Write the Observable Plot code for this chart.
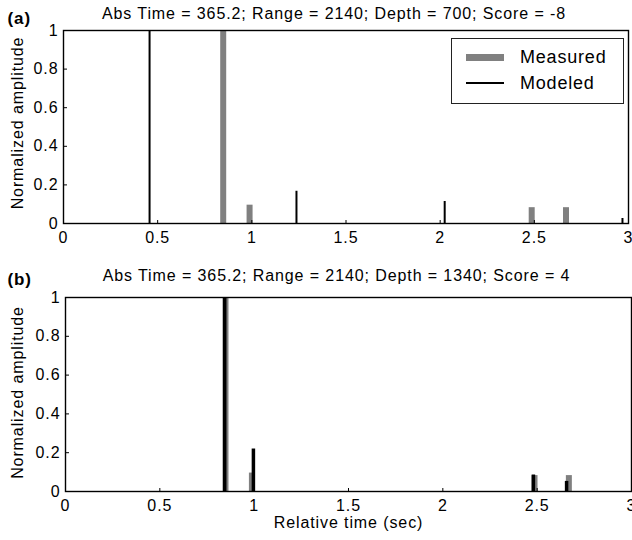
<!DOCTYPE html>
<html>
<head>
<meta charset="utf-8">
<script src="https://cdn.jsdelivr.net/npm/d3@7"></script>
<script src="https://cdn.jsdelivr.net/npm/@observablehq/plot@0.6"></script>
<style>
  html, body { margin: 0; padding: 0; background: #fff; }
  #wrap { position: relative; width: 632px; height: 540px; overflow: hidden; font-family: "Liberation Sans", Arial, sans-serif; }
  #wrap svg { display: block; }
  .legend { position: absolute; left: 451px; top: 38px; width: 171px; height: 64px; border: 1px solid #222; background: #fff; }
  .legend .row { position: absolute; left: 0; height: 20px; width: 100%; }
  .legend .sw { position: absolute; left: 14px; width: 38px; }
  .legend .lbl { position: absolute; left: 68px; top: 0; font-size: 18px; letter-spacing: 0.8px; line-height: 20px; color: #000; }
</style>
</head>
<body>
<div id="wrap"></div>
<script>
// ---- data ----
const xTicks = [0, 0.5, 1, 1.5, 2, 2.5, 3];
const yTicks = [0, 0.2, 0.4, 0.6, 0.8, 1];

const measuredTime = [0.848, 0.988, 2.486, 2.668];
const measuredAmp  = [1.0, 0.095, 0.082, 0.082];

const modeledTimeA = [0.457, 1.237, 2.024, 2.968];
const modeledAmpA  = [1.0, 0.167, 0.114, 0.026];

const modeledTimeB = [0.844, 0.996, 2.480, 2.656];
const modeledAmpB  = [1.0, 0.219, 0.085, 0.052];

const titles = [
  "Abs Time = 365.2; Range = 2140; Depth = 700; Score = -8",
  "Abs Time = 365.2; Range = 2140; Depth = 1340; Score = 4"
];
const panelLabels = ["(a)", "(b)"];
const yLabel = "Normalized amplitude";
const xLabel = "Relative time (sec)";
const legendLabels = ["Measured", "Modeled"];

// ---- build ----
const measured = measuredTime.map((t, i) => ({t, a: measuredAmp[i]}));
const modeledA = modeledTimeA.map((t, i) => ({t, a: modeledAmpA[i]}));
const modeledB = modeledTimeB.map((t, i) => ({t, a: modeledAmpB[i]}));

const FONT = '"Liberation Sans", Arial, sans-serif';

function panel({height, mt, mb, ml, mr, modeled, modeledWidth, title, titleDy, label, labelDx, labelDy, ylabDx, ylabDy, withX}) {
  const W = 632;
  const plotW = W - ml - mr;
  const plotH = height - mt - mb;
  const marks = [
    Plot.ruleX(measured, {x: "t", y1: 0, y2: "a", stroke: "#808080", strokeWidth: 6}),
    Plot.ruleX(modeled, {x: "t", y1: 0, y2: "a", stroke: "#000", strokeWidth: modeledWidth}),
    Plot.frame({stroke: "#000", strokeWidth: 1.4}),
    Plot.tickY(yTicks, {y: d => d, stroke: "#000", insetRight: plotW - 4}),
    Plot.tickX(xTicks, {x: d => d, stroke: "#000", insetTop: plotH - 3}),
    Plot.axisY({ticks: yTicks, tickFormat: d => String(d), tickSize: 0, tickPadding: 5, fontSize: 16, label: null, style: {letterSpacing: "0.4px"}}),
    Plot.axisX({ticks: xTicks, tickFormat: d => String(d), tickSize: 0, tickPadding: 8, fontSize: 16, label: null}),
    Plot.text([title], {frameAnchor: "top", text: d => d, dx: -12, dy: titleDy, fontSize: 16, textAnchor: "middle", lineAnchor: "middle", fill: "#000"}),
    Plot.text([label], {frameAnchor: "top-left", text: d => d, dx: labelDx, dy: labelDy, fontSize: 17, fontWeight: "bold", textAnchor: "start", lineAnchor: "middle", fill: "#000"}),
    Plot.text([yLabel], {frameAnchor: "left", text: d => d, dx: ylabDx, dy: ylabDy, rotate: -90, fontSize: 16, textAnchor: "middle", lineAnchor: "middle", fill: "#000"})
  ];
  if (withX) {
    marks.push(Plot.text([xLabel], {frameAnchor: "bottom", text: d => d, dy: 31, fontSize: 16, textAnchor: "middle", lineAnchor: "middle", fill: "#000"}));
  }
  return Plot.plot({
    width: W, height,
    marginTop: mt, marginBottom: mb, marginLeft: ml, marginRight: mr,
    x: {domain: [0, 3]},
    y: {domain: [0, 1]},
    style: {fontFamily: FONT, color: "#000", background: "#fff", overflow: "visible", letterSpacing: "0.9px"},
    marks
  });
}

const wrap = document.getElementById("wrap");
wrap.append(panel({
  height: 262, mt: 30, mb: 39, ml: 63, mr: 4,
  modeled: modeledA, modeledWidth: 2,
  title: titles[0], titleDy: -17,
  label: panelLabels[0], labelDx: -56, labelDy: -12,
  ylabDx: -46, ylabDy: -4, withX: false
}));
wrap.append(panel({
  height: 278, mt: 35, mb: 49, ml: 65, mr: 1,
  modeled: modeledB, modeledWidth: 3.5,
  title: titles[1], titleDy: -22,
  label: panelLabels[1], labelDx: -58, labelDy: -18,
  ylabDx: -48, ylabDy: -2, withX: true
}));

// legend (top panel)
const lg = document.createElement("div");
lg.className = "legend";
lg.innerHTML = `
  <div class="row" style="top:8px"><div class="sw" style="top:7px;height:7px;background:#808080"></div><div class="lbl">${legendLabels[0]}</div></div>
  <div class="row" style="top:34px"><div class="sw" style="top:9px;height:2px;background:#000"></div><div class="lbl">${legendLabels[1]}</div></div>`;
wrap.append(lg);
</script>
</body>
</html>
